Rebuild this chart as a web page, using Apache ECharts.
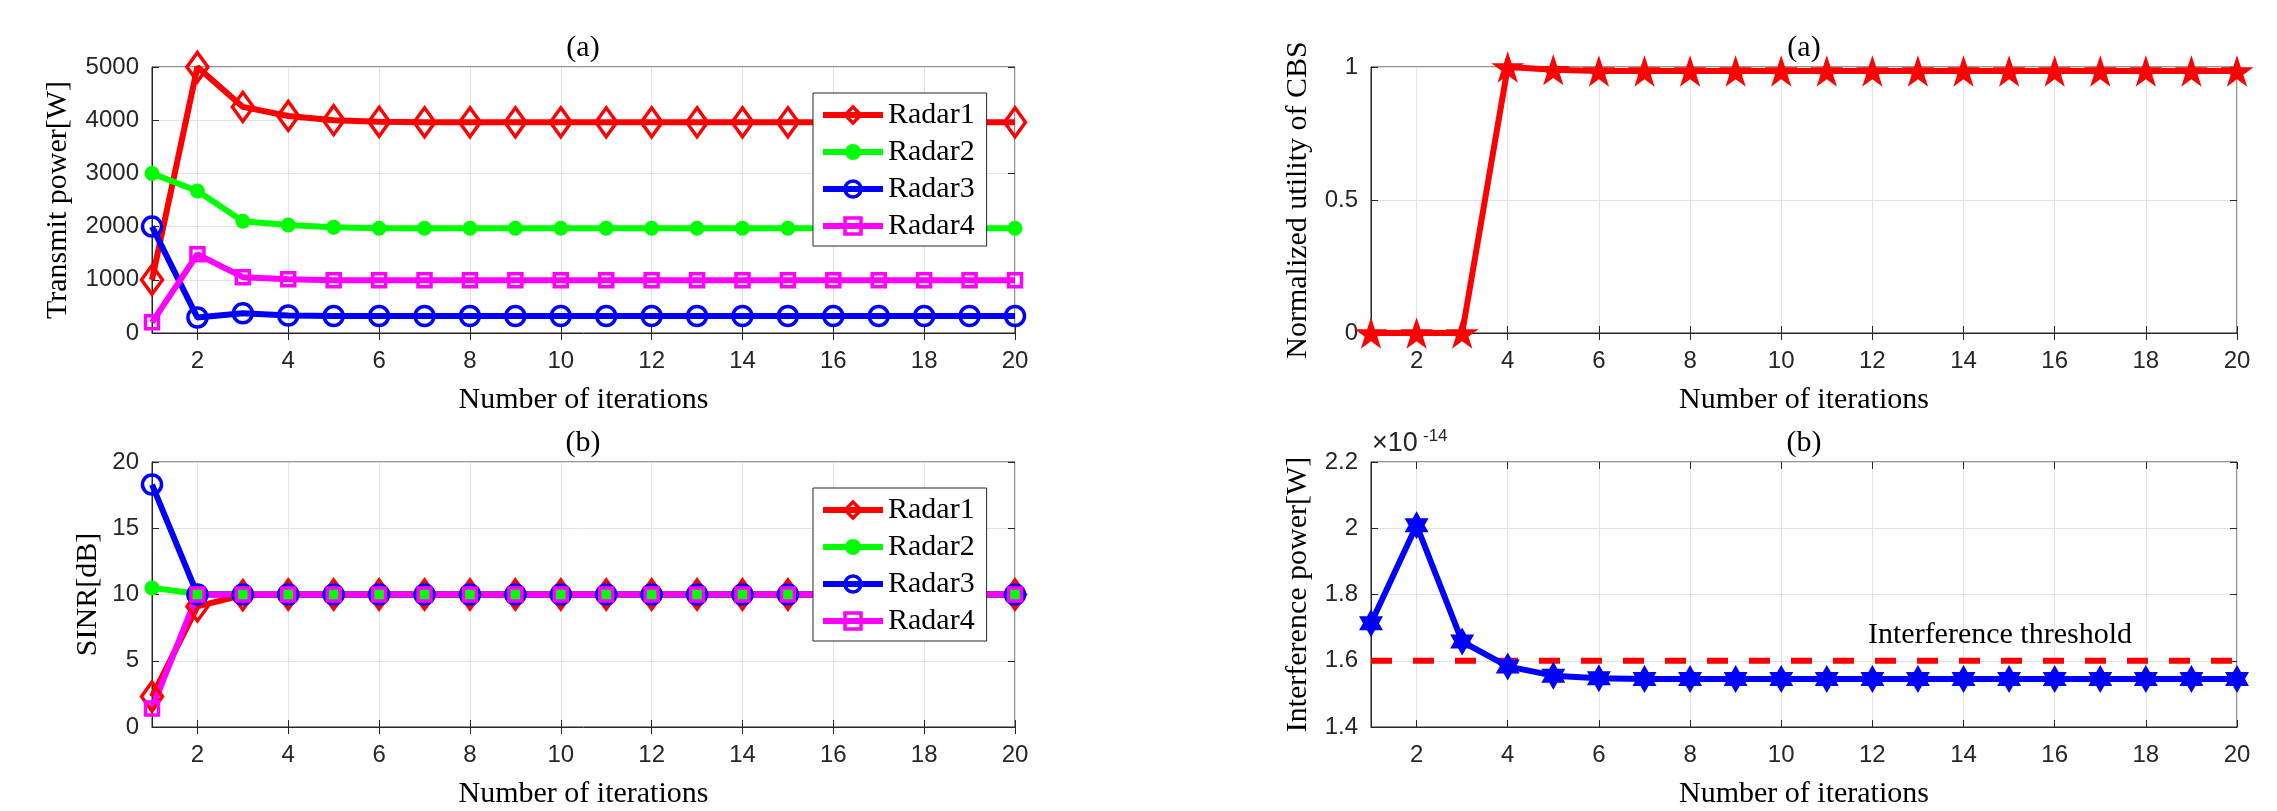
<!DOCTYPE html>
<html>
<head>
<meta charset="utf-8">
<script src="https://cdn.jsdelivr.net/npm/echarts@6/dist/echarts.min.js"></script>
<style>
    html, body { margin: 0; padding: 0; background: #fff; }
    #chart1 { width: 2277px; height: 811px; }
</style>
</head>
<body>
<div id="chart1"></div>
<script>
    // iterations on the x axis and the ticks shown under it
    var iterations = [1, 2, 3, 4, 5, 6, 7, 8, 9, 10, 11, 12, 13, 14, 15, 16, 17, 18, 19, 20];
    var iterationTicks = [2, 4, 6, 8, 10, 12, 14, 16, 18, 20];

    // (a) left: transmit power [W]
    var power1 = [1000, 5000, 4250, 4080, 4000, 3970, 3960, 3960, 3960, 3960, 3960, 3960, 3960, 3960, 3960, 3960, 3960, 3960, 3960, 3960];
    var power2 = [3000, 2670, 2100, 2030, 1990, 1970, 1970, 1970, 1970, 1970, 1970, 1970, 1970, 1970, 1970, 1970, 1970, 1970, 1970, 1970];
    var power3 = [2000, 290, 370, 330, 320, 320, 320, 320, 320, 320, 320, 320, 320, 320, 320, 320, 320, 320, 320, 320];
    var power4 = [200, 1480, 1050, 1010, 990, 990, 990, 990, 990, 990, 990, 990, 990, 990, 990, 990, 990, 990, 990, 990];

    // (b) left: SINR [dB]
    var sinr1 = [2.3, 9.1, 9.95, 10, 10, 10, 10, 10, 10, 10, 10, 10, 10, 10, 10, 10, 10, 10, 10, 10];
    var sinr2 = [10.5, 10.05, 10, 10, 10, 10, 10, 10, 10, 10, 10, 10, 10, 10, 10, 10, 10, 10, 10, 10];
    var sinr3 = [18.3, 10, 10, 10, 10, 10, 10, 10, 10, 10, 10, 10, 10, 10, 10, 10, 10, 10, 10, 10];
    var sinr4 = [1.4, 10, 10, 10, 10, 10, 10, 10, 10, 10, 10, 10, 10, 10, 10, 10, 10, 10, 10, 10];

    // (a) right: normalized utility of CBS
    var cbsUtility = [0, 0, 0, 1, 0.99, 0.985, 0.985, 0.985, 0.985, 0.985, 0.985, 0.985, 0.985, 0.985, 0.985, 0.985, 0.985, 0.985, 0.985, 0.985];

    // (b) right: interference power, in units of 1e-14 W
    var interference = [1.713, 2.009, 1.658, 1.583, 1.555, 1.547, 1.545, 1.545, 1.545, 1.545, 1.545, 1.545, 1.545, 1.545, 1.545, 1.545, 1.545, 1.545, 1.545, 1.545];
    var thresholdLevel = 1.6;

    var radarNames = ['Radar1', 'Radar2', 'Radar3', 'Radar4'];

    var SERIF = 'Liberation Serif';
    var SANS = 'Liberation Sans';
    var AXIS_COLOR = '#262626';
    var GRID_COLOR = '#e2e2e2';
    var LINE_W = 6;

    var STAR5 = 'path://M50,0 L61.2,34.5 L97.6,34.5 L68.2,55.9 L79.4,90.5 L50,69.1 L20.6,90.5 L31.8,55.9 L2.4,34.5 L38.8,34.5 Z';
    var STAR6 = 'path://M50,0 L64.43,25 L93.3,25 L78.87,50 L93.3,75 L64.43,75 L50,100 L35.57,75 L6.7,75 L21.13,50 L6.7,25 L35.57,25 Z';

    function pairs(ys) {
        return ys.map(function (y, k) { return [iterations[k], y]; });
    }

    function bottomAxis(i) {
        return {
            type: 'value', gridIndex: i, position: 'bottom', min: 1, max: 20,
            name: 'Number of iterations', nameLocation: 'middle', nameGap: 52,
            nameTextStyle: { fontFamily: SERIF, fontSize: 30, color: '#000' },
            axisLine: { show: true, onZero: false, lineStyle: { color: AXIS_COLOR, width: 1 } },
            axisTick: { inside: true, length: 7, customValues: iterationTicks, lineStyle: { color: AXIS_COLOR } },
            axisLabel: {
                fontFamily: SANS, fontSize: 24, color: AXIS_COLOR, margin: 16,
                customValues: iterationTicks
            },
            splitLine: { show: true, lineStyle: { color: GRID_COLOR, width: 1 } }
        };
    }

    function topAxis(i) {
        return {
            type: 'value', gridIndex: i, position: 'top', min: 1, max: 20,
            axisLine: { show: false },
            axisTick: { inside: true, length: 7, customValues: iterationTicks, lineStyle: { color: AXIS_COLOR } },
            axisLabel: { show: false },
            splitLine: { show: false }
        };
    }

    function leftAxis(i, min, max, step, name, gap) {
        return {
            type: 'value', gridIndex: i, position: 'left', min: min, max: max, interval: step,
            name: name, nameLocation: 'middle', nameGap: gap,
            nameTextStyle: { fontFamily: SERIF, fontSize: 30, color: '#000' },
            axisLine: { show: true, onZero: false, lineStyle: { color: AXIS_COLOR, width: 1 } },
            axisTick: { show: true, inside: true, length: 7, lineStyle: { color: AXIS_COLOR } },
            axisLabel: {
                fontFamily: SANS, fontSize: 24, color: AXIS_COLOR, margin: 13,
                formatter: function (v) { return String(+v.toFixed(2)); }
            },
            splitLine: { show: true, lineStyle: { color: GRID_COLOR, width: 1 } }
        };
    }

    function rightAxis(i, min, max, step) {
        return {
            type: 'value', gridIndex: i, position: 'right', min: min, max: max, interval: step,
            axisLine: { show: false },
            axisTick: { show: true, inside: true, length: 7, lineStyle: { color: AXIS_COLOR } },
            axisLabel: { show: false },
            splitLine: { show: false }
        };
    }

    // radar series: name, values, colour, marker
    function radarSeries(axis, name, ys, color, symbol, size, filled) {
        return {
            name: name, type: 'line', xAxisIndex: axis, yAxisIndex: axis,
            data: pairs(ys), clip: false,
            symbol: symbol, symbolSize: size, showAllSymbol: true,
            lineStyle: { color: color, width: LINE_W },
            itemStyle: filled
                ? { color: color }
                : { color: 'rgba(255,255,255,0)', borderColor: color, borderWidth: 3.5 },
            emphasis: { disabled: true }
        };
    }

    function legendAt(top) {
        return {
            orient: 'vertical', left: 813, top: top,
            data: radarNames, selectedMode: false,
            backgroundColor: '#fff', borderColor: AXIS_COLOR, borderWidth: 1, borderRadius: 0,
            padding: [7, 12, 5, 7], itemWidth: 60, itemHeight: 20, itemGap: 7,
            lineStyle: { width: LINE_W },
            itemStyle: { borderWidth: 3.5 },
            textStyle: { fontFamily: SERIF, fontSize: 30, color: '#000' }
        };
    }

    function label(x, y, text, font, align) {
        return {
            type: 'text', x: x, y: y, z: 10,
            style: {
                text: text, font: font, fill: '#000',
                textAlign: align, align: align,
                textVerticalAlign: 'middle', verticalAlign: 'middle'
            }
        };
    }

    var chartDom = document.getElementById('chart1');
    var myChart = echarts.init(chartDom, null, { renderer: 'canvas' });

    var gridBox = { show: true, borderColor: AXIS_COLOR, borderWidth: 1, backgroundColor: '#fff' };

    var option = {
        animation: false,
        backgroundColor: '#fff',
        grid: [
            Object.assign({ left: 152, top: 67, width: 863, height: 266 }, gridBox),
            Object.assign({ left: 152, top: 462, width: 863, height: 265 }, gridBox),
            Object.assign({ left: 1371, top: 67, width: 866, height: 266 }, gridBox),
            Object.assign({ left: 1371, top: 462, width: 866, height: 265 }, gridBox)
        ],
        xAxis: [bottomAxis(0), bottomAxis(1), bottomAxis(2), bottomAxis(3),
                topAxis(0), topAxis(1), topAxis(2), topAxis(3)],
        yAxis: [
            leftAxis(0, 0, 5000, 1000, 'Transmit power[W]', 79),
            leftAxis(1, 0, 20, 5, 'SINR[dB]', 49),
            leftAxis(2, 0, 1, 0.5, 'Normalized utility of CBS', 58),
            leftAxis(3, 1.4, 2.2, 0.2, 'Interference power[W]', 58),
            rightAxis(0, 0, 5000, 1000), rightAxis(1, 0, 20, 5),
            rightAxis(2, 0, 1, 0.5), rightAxis(3, 1.4, 2.2, 0.2)
        ],
        legend: [legendAt(93), legendAt(488)],
        graphic: [
            label(583, 48, '(a)', '30px "Liberation Serif"', 'center'),
            label(583, 443, '(b)', '30px "Liberation Serif"', 'center'),
            label(1804, 48, '(a)', '30px "Liberation Serif"', 'center'),
            label(1804, 443, '(b)', '30px "Liberation Serif"', 'center'),
            label(1868, 635, 'Interference threshold', '30px "Liberation Serif"', 'left'),
            { type: 'text', x: 1372, y: 444, z: 10,
              style: { text: '\u00d710', font: '27px "Liberation Sans"', fill: AXIS_COLOR,
                       textVerticalAlign: 'middle', verticalAlign: 'middle' } },
            { type: 'text', x: 1423, y: 436, z: 10,
              style: { text: '-14', font: '17px "Liberation Sans"', fill: AXIS_COLOR,
                       textVerticalAlign: 'middle', verticalAlign: 'middle' } }
        ],
        series: [
            radarSeries(0, 'Radar1', power1, '#ff0000', 'diamond', [21, 29], false),
            radarSeries(0, 'Radar2', power2, '#00ff00', 'circle', 15, true),
            radarSeries(0, 'Radar3', power3, '#0000ff', 'circle', 19, false),
            radarSeries(0, 'Radar4', power4, '#ff00ff', 'rect', 13, false),

            radarSeries(1, 'Radar1', sinr1, '#ff0000', 'diamond', [21, 29], false),
            radarSeries(1, 'Radar2', sinr2, '#00ff00', 'circle', 15, true),
            radarSeries(1, 'Radar3', sinr3, '#0000ff', 'circle', 19, false),
            radarSeries(1, 'Radar4', sinr4, '#ff00ff', 'rect', 13, false),

            {
                name: 'CBS', type: 'line', xAxisIndex: 2, yAxisIndex: 2,
                data: pairs(cbsUtility), clip: false,
                symbol: STAR5, symbolSize: 33, symbolKeepAspect: true, showAllSymbol: true,
                lineStyle: { color: '#ff0000', width: LINE_W },
                itemStyle: { color: '#ff0000' },
                emphasis: { disabled: true }
            },
            {
                name: 'Interference threshold', type: 'line', xAxisIndex: 3, yAxisIndex: 3,
                data: [[iterations[0], thresholdLevel], [iterations[iterations.length - 1], thresholdLevel]],
                symbol: 'none',
                lineStyle: { color: '#ff0000', width: LINE_W, type: [21, 21] },
                emphasis: { disabled: true }
            },
            {
                name: 'Interference', type: 'line', xAxisIndex: 3, yAxisIndex: 3,
                data: pairs(interference), clip: false,
                symbol: STAR6, symbolSize: [24, 28], showAllSymbol: true,
                lineStyle: { color: '#0000ff', width: LINE_W },
                itemStyle: { color: '#0000ff' },
                emphasis: { disabled: true }
            }
        ]
    };
    option && myChart.setOption(option);
</script>
</body>
</html>
